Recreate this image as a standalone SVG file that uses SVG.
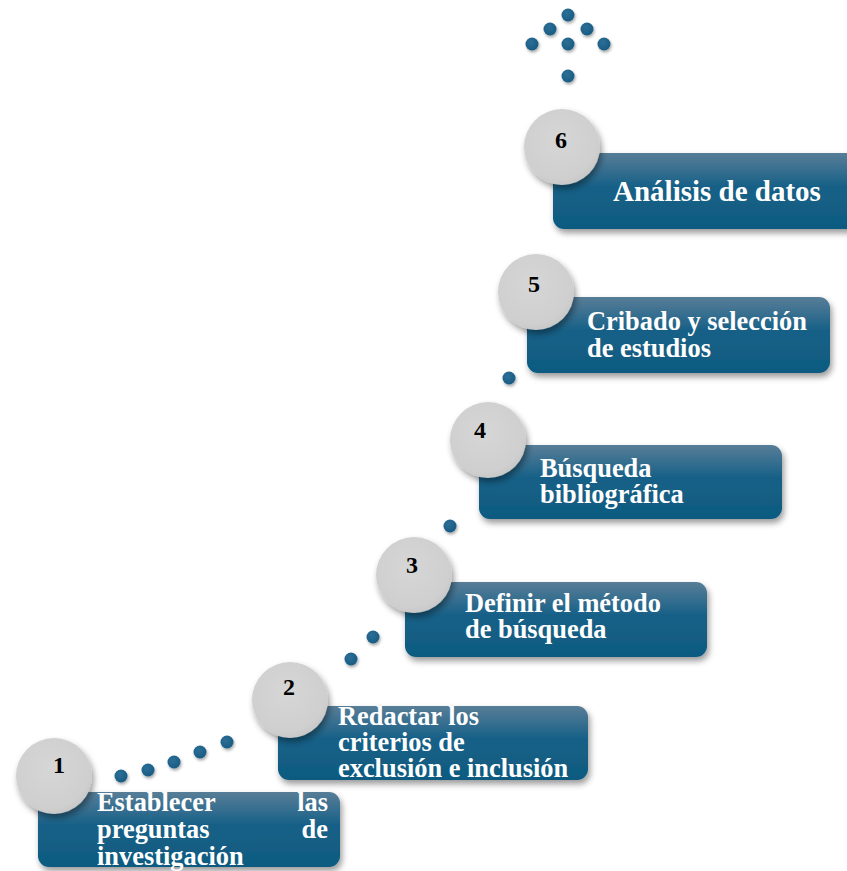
<svg xmlns="http://www.w3.org/2000/svg" width="847" height="871" viewBox="0 0 847 871">
  <defs>
    <linearGradient id="boxFill" x1="0" y1="0" x2="0" y2="1">
      <stop offset="0" stop-color="#587d97"/>
      <stop offset="0.45" stop-color="#166087"/>
      <stop offset="1" stop-color="#0f5a80"/>
    </linearGradient>
    <radialGradient id="circleFill" cx="0.45" cy="0.4" r="0.65">
      <stop offset="0" stop-color="#d6d6d6"/>
      <stop offset="0.8" stop-color="#cfcfcf"/>
      <stop offset="1" stop-color="#c4c4c4"/>
    </radialGradient>
    <radialGradient id="dotFill" cx="0.4" cy="0.35" r="0.7">
      <stop offset="0" stop-color="#2d6f96"/>
      <stop offset="1" stop-color="#175a82"/>
    </radialGradient>
    <filter id="shadow" x="-20%" y="-20%" width="150%" height="160%">
      <feDropShadow dx="2" dy="4" stdDeviation="3" flood-color="#000" flood-opacity="0.4"/>
    </filter>
    <filter id="dotShadow" x="-50%" y="-50%" width="220%" height="220%">
      <feDropShadow dx="1" dy="2" stdDeviation="1.5" flood-color="#000" flood-opacity="0.35"/>
    </filter>
  </defs>
  <style>
    .box { fill: url(#boxFill); filter: url(#shadow); }
    .num-circle { fill: url(#circleFill); filter: url(#shadow); }
    .dot { fill: url(#dotFill); filter: url(#dotShadow); }
    .label { font-family: "Liberation Serif", "Times New Roman", serif; font-weight: bold; font-size: 26.4px; fill: #ffffff; }
    .label-lg { font-size: 29px; }
    .num { font-family: "Liberation Serif", "Times New Roman", serif; font-weight: bold; font-size: 24px; fill: #000000; text-anchor: middle; }
  </style>

  <rect width="847" height="871" fill="#ffffff"/>

  <!-- dotted connectors between steps and the arrow at the top -->
  <g id="connectors">
    <circle class="dot" cx="121" cy="776" r="6.5"/>
    <circle class="dot" cx="148" cy="770" r="6.5"/>
    <circle class="dot" cx="174" cy="762" r="6.5"/>
    <circle class="dot" cx="200" cy="752" r="6.5"/>
    <circle class="dot" cx="227" cy="742" r="6.5"/>
    <circle class="dot" cx="351" cy="659" r="6.5"/>
    <circle class="dot" cx="373" cy="637" r="6.5"/>
    <circle class="dot" cx="450" cy="526" r="6.5"/>
    <circle class="dot" cx="509" cy="378" r="6.5"/>
    <!-- arrow -->
    <circle class="dot" cx="568" cy="15" r="6.5"/>
    <circle class="dot" cx="550" cy="29" r="6.5"/>
    <circle class="dot" cx="587" cy="29" r="6.5"/>
    <circle class="dot" cx="532" cy="44" r="6.5"/>
    <circle class="dot" cx="568" cy="44" r="6.5"/>
    <circle class="dot" cx="604" cy="44" r="6.5"/>
    <circle class="dot" cx="568" cy="76" r="6.5"/>
  </g>

  <g id="step1">
    <rect class="box" x="38" y="792" width="302" height="75" rx="11"/>
    <circle class="num-circle" cx="54" cy="776" r="38"/>
    <text class="num" x="59" y="773">1</text>
    <text class="label"><tspan x="97" y="811">Establecer</tspan><tspan x="328" y="811" text-anchor="end">las</tspan><tspan x="97" y="838">preguntas</tspan><tspan x="328" y="838" text-anchor="end">de</tspan><tspan x="97" y="865">investigación</tspan></text>
  </g>

  <g id="step2">
    <rect class="box" x="278" y="706" width="310" height="74" rx="11"/>
    <circle class="num-circle" cx="290" cy="700" r="38"/>
    <text class="num" x="289" y="695">2</text>
    <text class="label"><tspan x="338" y="725">Redactar los</tspan><tspan x="338" y="751">criterios de</tspan><tspan x="338" y="777">exclusión e inclusión</tspan></text>
  </g>

  <g id="step3">
    <rect class="box" x="405" y="582" width="302" height="75" rx="11"/>
    <circle class="num-circle" cx="414" cy="575" r="38"/>
    <text class="num" x="412" y="573">3</text>
    <text class="label"><tspan x="465" y="612">Definir el método</tspan><tspan x="465" y="638">de búsqueda</tspan></text>
  </g>

  <g id="step4">
    <rect class="box" x="479" y="445" width="303" height="74" rx="11"/>
    <circle class="num-circle" cx="488" cy="440" r="38"/>
    <text class="num" x="480" y="438">4</text>
    <text class="label"><tspan x="540" y="477">Búsqueda</tspan><tspan x="540" y="503">bibliográfica</tspan></text>
  </g>

  <g id="step5">
    <rect class="box" x="527" y="297" width="303" height="76" rx="11"/>
    <circle class="num-circle" cx="536" cy="292" r="38"/>
    <text class="num" x="534" y="292">5</text>
    <text class="label"><tspan x="587" y="330">Cribado y selección</tspan><tspan x="587" y="357">de estudios</tspan></text>
  </g>

  <g id="step6">
    <rect class="box" x="553" y="153" width="310" height="76" rx="11"/>
    <circle class="num-circle" cx="562" cy="147" r="38"/>
    <text class="num" x="561" y="148">6</text>
    <text class="label label-lg" x="613" y="201">Análisis de datos</text>
  </g>
</svg>
